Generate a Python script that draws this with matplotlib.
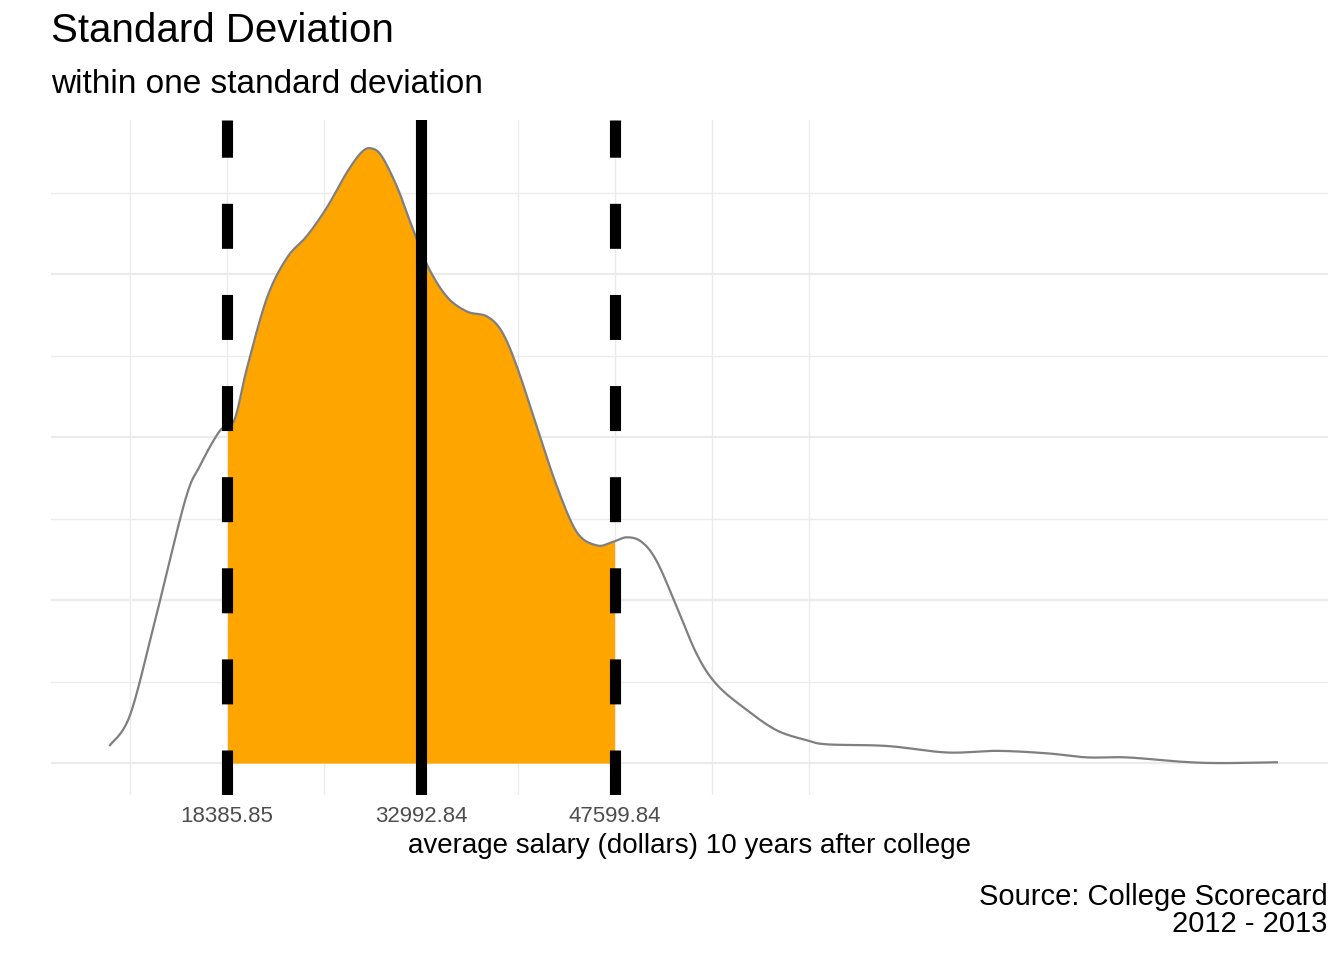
import numpy as np
import matplotlib.pyplot as plt

plt.rcParams['font.family'] = ['Liberation Sans', 'DejaVu Sans']

# density curve (salary, relative density)
salary = [9577, 11083, 12965, 15224, 16353, 17859, 18914, 19893, 21398, 22904,
          24410, 25916, 27422, 28551, 29304, 30057, 31186, 32316, 33521, 34951,
          36457, 37963, 39093, 40222, 41728, 43234, 44740, 46246, 47375, 48505,
          49634, 50764, 52270, 53776, 55281, 57540, 59799, 62058, 63563, 68081,
          72598, 76362, 80127, 83139, 86150, 89914, 92926, 97444]
density = [0.22, 0.59, 1.75, 3.22, 3.65, 4.08, 4.20, 4.85, 5.71, 6.20,
           6.47, 6.82, 7.25, 7.50, 7.54, 7.44, 7.07, 6.58, 6.09, 5.72,
           5.54, 5.48, 5.29, 4.86, 4.12, 3.39, 2.83, 2.67, 2.71, 2.77,
           2.71, 2.47, 1.91, 1.33, 0.96, 0.65, 0.40, 0.28, 0.23, 0.21,
           0.13, 0.15, 0.12, 0.07, 0.07, 0.02, 0.00, 0.01]
mean_val = 32992.84
sd_val = 14606.995
ticks = [mean_val - sd_val, mean_val, mean_val + sd_val]
tick_labels = ['18385.85', '32992.84', '47599.84']


def catmull_rom(px, py, n=30):
    px = np.asarray(px, float)
    py = np.asarray(py, float)
    P = np.column_stack([px, py])
    P = np.vstack([P[0], P, P[-1]])
    out = []
    t = np.linspace(0, 1, n, endpoint=False)[:, None]
    for i in range(1, len(P) - 2):
        p0, p1, p2, p3 = P[i - 1], P[i], P[i + 1], P[i + 2]
        seg = 0.5 * ((2 * p1) + (-p0 + p2) * t + (2 * p0 - 5 * p1 + 4 * p2 - p3) * t ** 2
                     + (-p0 + 3 * p1 - 3 * p2 + p3) * t ** 3)
        out.append(seg)
    out.append(P[-2][None, :])
    out = np.vstack(out)
    return out[:, 0], out[:, 1]


xs, ys = catmull_rom(salary, density)

fig = plt.figure(figsize=(13.44, 9.6), dpi=100)
ax = fig.add_axes([0.038, 0.172, 0.950, 0.703])

step = sd_val / 2
grid_x = [ticks[0] - step + k * step for k in range(8)]
for g in grid_x:
    ax.axvline(g, color='#ebebeb', lw=1.0, zorder=0)
for k in range(8):
    ax.axhline(k, color='#ebebeb', lw=1.6 if k % 2 == 0 else 1.0, zorder=0)

mask = (xs >= ticks[0]) & (xs <= ticks[2])
ax.fill_between(xs[mask], 0, ys[mask], color='#ffa500', lw=0, zorder=1)
ax.plot(xs, ys, color='#7f7f7f', lw=1.6, zorder=2)

for t in (ticks[0], ticks[2]):
    ax.axvline(t, color='black', lw=8, linestyle=(0, (4.05, 4.15)), zorder=3)
ax.axvline(mean_val, color='black', lw=8, zorder=3)

ax.set_xlim(9577 - 59 * 75.29, 9577 + 1218 * 75.29)
ax.set_ylim(-0.39, 7.89)
ax.set_xticks(ticks)
ax.set_xticklabels(tick_labels, fontsize=16, color='#4d4d4d')
ax.set_yticks([])
ax.tick_params(axis='x', length=0, pad=8)
for s in ax.spines.values():
    s.set_visible(False)
ax.set_xlabel('average salary (dollars) 10 years after college', fontsize=20, labelpad=4)

fig.text(0.038, 0.968, 'Standard Deviation', fontsize=29, va='center')
fig.text(0.038, 0.912, 'within one standard deviation', fontsize=24, va='center')
fig.text(0.988, 0.052, 'Source: College Scorecard\n2012 - 2013', fontsize=21,
         ha='right', va='center', linespacing=0.95)

plt.savefig('out.png')
